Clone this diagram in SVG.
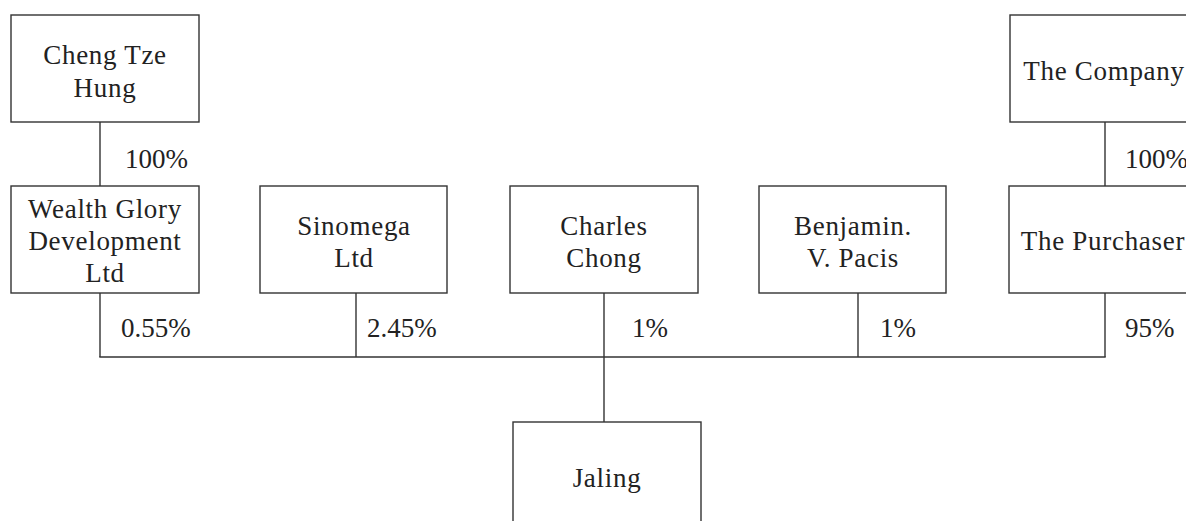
<svg xmlns="http://www.w3.org/2000/svg" width="1186" height="521" viewBox="0 0 1186 521">
<style>
rect.box{fill:#fff;stroke:#333;stroke-width:1.4}
text{font-family:"Liberation Serif","Times New Roman",serif;font-size:27px;fill:#222}
.c{text-anchor:middle;letter-spacing:0.7px}
.conn line{stroke:#333;stroke-width:1.4}
</style>
<rect width="1186" height="521" fill="#fff"/>
<g id="connectors" class="conn">
<line x1="100" y1="122" x2="100" y2="186"/>
<line x1="1105" y1="122" x2="1105" y2="186"/>
<line x1="100" y1="293" x2="100" y2="357"/>
<line x1="356" y1="293" x2="356" y2="357"/>
<line x1="604" y1="293" x2="604" y2="422"/>
<line x1="858" y1="293" x2="858" y2="357"/>
<line x1="1105" y1="293" x2="1105" y2="357"/>
<line x1="99.3" y1="357" x2="1105.7" y2="357"/>
<text x="125" y="168">100%</text>
<text x="1125" y="168">100%</text>
<text x="121" y="337">0.55%</text>
<text x="367" y="337">2.45%</text>
<text x="632" y="337">1%</text>
<text x="880" y="337">1%</text>
<text x="1125" y="337">95%</text>
</g>
<g id="cheng">
<rect class="box" x="11" y="15" width="188" height="107"/>
<text class="c" x="105" y="64">Cheng Tze</text>
<text class="c" x="105" y="97">Hung</text>
</g>
<g id="company">
<rect class="box" x="1010" y="15" width="188" height="107"/>
<text class="c" x="1104" y="80">The Company</text>
</g>
<g id="wealth">
<rect class="box" x="11" y="186" width="188" height="107"/>
<text class="c" x="105" y="218">Wealth Glory</text>
<text class="c" x="105" y="250">Development</text>
<text class="c" x="105" y="282">Ltd</text>
</g>
<g id="sinomega">
<rect class="box" x="260" y="186" width="187" height="107"/>
<text class="c" x="354" y="235">Sinomega</text>
<text class="c" x="354" y="267">Ltd</text>
</g>
<g id="charles">
<rect class="box" x="510" y="186" width="188" height="107"/>
<text class="c" x="604" y="235">Charles</text>
<text class="c" x="604" y="267">Chong</text>
</g>
<g id="benjamin">
<rect class="box" x="759" y="186" width="187" height="107"/>
<text class="c" x="853" y="235">Benjamin.</text>
<text class="c" x="853" y="267">V. Pacis</text>
</g>
<g id="purchaser">
<rect class="box" x="1009" y="186" width="188" height="107"/>
<text class="c" x="1103" y="250">The Purchaser</text>
</g>
<g id="jaling">
<rect class="box" x="513" y="422" width="188" height="107"/>
<text class="c" x="607" y="487">Jaling</text>
</g>
</svg>
